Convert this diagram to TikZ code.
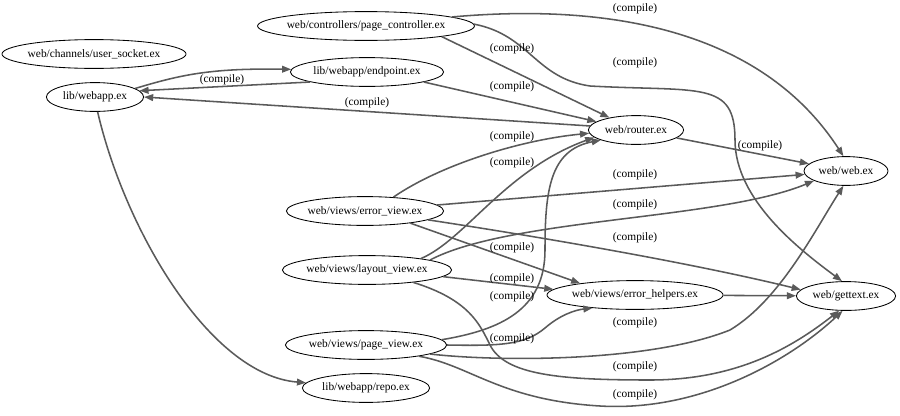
\documentclass[tikz,border=0pt]{standalone}
\usepackage{fontspec}
\setmainfont{Liberation Serif}
\usetikzlibrary{arrows.meta, shapes.geometric}
\definecolor{edgegray}{HTML}{5A5A5A}
\tikzset{
    file/.style={
        ellipse, draw=black, line width=0.6pt, fill=white,
        minimum height=0.72cm, inner xsep=-10pt, inner ysep=0pt,
        font=\fontsize{8.1}{9}\selectfont
    },
    dep/.style={-{Triangle[length=6.5pt, width=4.8pt]}, line width=1.1pt, draw=edgegray},
    lbl/.style={font=\fontsize{8.1}{9}\selectfont, inner sep=0pt}
}

\begin{document}
\begin{tikzpicture}[x=0.025cm, y=-0.025cm]
    \useasboundingbox (0,0) rectangle (900,415);

    % files
    \node[file, minimum width=4.6cm]  (socket)   at (94,54)   {web/channels/user\_socket.ex};
    \node[file, minimum width=2.43cm] (webapp)   at (95,97)   {lib/webapp.ex};
    \node[file, minimum width=5.42cm] (pagectl)  at (366,26)  {web/controllers/page\_controller.ex};
    \node[file, minimum width=3.83cm] (endpoint) at (367,72)  {lib/webapp/endpoint.ex};
    \node[file, minimum width=2.38cm] (router)   at (636,130) {web/router.ex};
    \node[file, minimum width=2.1cm]  (web)      at (846,171) {web/web.ex};
    \node[file, minimum width=3.93cm] (errview)  at (365,211) {web/views/error\_view.ex};
    \node[file, minimum width=4.23cm] (layview)  at (367,270) {web/views/layout\_view.ex};
    \node[file, minimum width=4.4cm]  (errhelp)  at (635,295) {web/views/error\_helpers.ex};
    \node[file, minimum width=2.48cm] (gettext)  at (846,296) {web/gettext.ex};
    \node[file, minimum width=4.03cm] (pageview) at (366,345) {web/views/page\_view.ex};
    \node[file, minimum width=3.18cm] (repo)     at (366,388) {lib/webapp/repo.ex};

    % dependencies
    \draw[dep] (webapp.12) .. controls (180,75) and (210,68) .. (endpoint.178);
    \draw[dep] (endpoint.190) -- (webapp.8);
    \node[lbl] (c1) at (222,80) {(compile)};
    \draw[dep] (router.175) -- (webapp.east);
    \node[lbl] (c2) at (367,103) {(compile)};
    \draw[dep] (webapp.-80) .. controls (125,230) and (210,375) .. (repo.175);

    \draw[dep] (pagectl.6) .. controls (620,2) and (765,35) .. (web.100);
    \node[lbl] (c3) at (635,9) {(compile)};
    \draw[dep] (pagectl.1) .. controls (530,35) and (535,78) .. (590,86)
        .. controls (700,92) and (735,80) .. (735,140)
        .. controls (735,200) and (800,250) .. (gettext.105);
    \node[lbl] (c4) at (635,63) {(compile)};
    \draw[dep] (pagectl.-8) -- (router.155);
    \node[lbl] (c5) at (512,49) {(compile)};
    \draw[dep] (endpoint.-10) -- (router.168);
    \node[lbl] (c6) at (512,87) {(compile)};
    \draw[dep] (router) -- (web);
    \node[lbl] (c7) at (760,146) {(compile)};

    \draw[dep] (errview.26) .. controls (440,165) and (520,140) .. (router.184);
    \node[lbl] (c8) at (512,137) {(compile)};
    \draw[dep] (layview.12) .. controls (465,240) and (505,170) .. (router.190);
    \node[lbl] (c9) at (512,163) {(compile)};
    \draw[dep] (pageview.4) .. controls (500,330) and (545,310) .. (545,250)
        .. controls (545,190) and (550,150) .. (router.196);
    \node[lbl] (c10) at (512,297) {(compile)};

    \draw[dep] (errview) -- (web);
    \node[lbl] (c11) at (635,175) {(compile)};
    \draw[dep] (layview.9) .. controls (510,218) and (720,220) .. (web.197);
    \node[lbl] (c12) at (635,205) {(compile)};
    \draw[dep] (errview.-8) .. controls (560,240) and (700,265) .. (gettext.172);
    \node[lbl] (c13) at (635,238) {(compile)};
    \draw[dep] (errview.-15) -- (errhelp.168);
    \node[lbl] (c14) at (512,248) {(compile)};
    \draw[dep] (layview.-5) -- (errhelp.176);
    \node[lbl] (c15) at (512,279) {(compile)};
    \draw[dep] (pageview.east) .. controls (500,346) and (525,345) .. (545,328)
        .. controls (560,315) and (575,310) .. (errhelp.197);
    \node[lbl] (c16) at (512,339) {(compile)};
    \draw[dep] (errhelp) -- (gettext);

    \draw[dep] (pageview.-8) .. controls (500,362) and (650,362) .. (730,330)
        .. controls (780,300) and (815,230) .. (web.-100);
    \node[lbl] (c17) at (635,323) {(compile)};
    \draw[dep] (layview.-15) .. controls (470,300) and (480,325) .. (490,345)
        .. controls (505,375) and (560,380) .. (650,380)
        .. controls (740,380) and (795,345) .. (gettext.-115);
    \node[lbl] (c18) at (635,367) {(compile)};
    \draw[dep] (pageview.-12) .. controls (470,365) and (500,400) .. (600,406)
        .. controls (700,412) and (790,360) .. (gettext.-103);
    \node[lbl] (c19) at (635,395) {(compile)};
\end{tikzpicture}
\end{document}
